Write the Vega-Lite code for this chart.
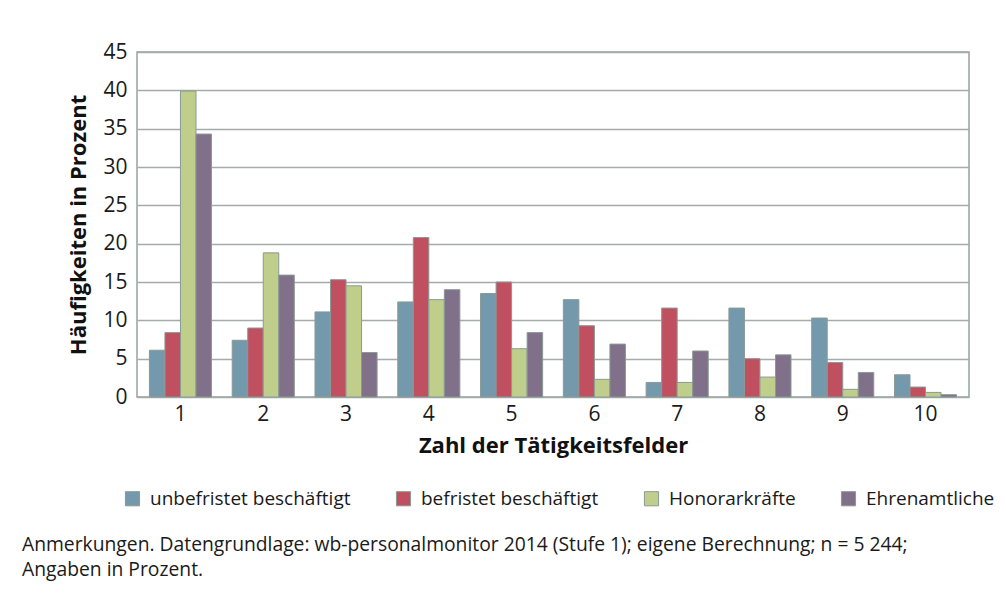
{
  "$schema": "https://vega.github.io/schema/vega-lite/v6.json",
  "width": 832,
  "height": 345,
  "autosize": {"type": "none"},
  "padding": {"left": 137, "top": 52, "right": 37, "bottom": 218},
  "background": "white",
  "title": {
    "text": ["Anmerkungen. Datengrundlage: wb-personalmonitor 2014 (Stufe 1); eigene Berechnung; n = 5 244;", "Angaben in Prozent."],
    "orient": "bottom",
    "anchor": "start",
    "frame": "group",
    "dx": -115,
    "offset": 27,
    "font": "Open Sans, sans-serif",
    "fontSize": 19.3,
    "fontWeight": "normal",
    "color": "#1a1a1a",
    "lineHeight": 25
  },
  "config": {
    "view": {"stroke": "#97a39e", "strokeWidth": 1.5},
    "font": "Open Sans, sans-serif",
    "axis": {
      "labelFont": "Open Sans, sans-serif",
      "labelFontSize": 21,
      "labelColor": "#1a1a1a",
      "titleFont": "Open Sans, sans-serif",
      "titleFontSize": 22,
      "titleFontWeight": "bold",
      "titleColor": "#111111",
      "ticks": false,
      "domain": false
    },
    "legend": {
      "labelFont": "Open Sans, sans-serif",
      "labelFontSize": 19,
      "labelColor": "#1a1a1a",
      "labelLimit": 0
    }
  },
  "data": {
    "values": [
      {"k": "1", "g": "unbefristet beschäftigt", "v": 6.1},
      {"k": "1", "g": "befristet beschäftigt", "v": 8.4},
      {"k": "1", "g": "Honorarkräfte", "v": 39.9},
      {"k": "1", "g": "Ehrenamtliche", "v": 34.3},
      {"k": "2", "g": "unbefristet beschäftigt", "v": 7.4},
      {"k": "2", "g": "befristet beschäftigt", "v": 9.0},
      {"k": "2", "g": "Honorarkräfte", "v": 18.8},
      {"k": "2", "g": "Ehrenamtliche", "v": 15.9},
      {"k": "3", "g": "unbefristet beschäftigt", "v": 11.1},
      {"k": "3", "g": "befristet beschäftigt", "v": 15.3},
      {"k": "3", "g": "Honorarkräfte", "v": 14.5},
      {"k": "3", "g": "Ehrenamtliche", "v": 5.8},
      {"k": "4", "g": "unbefristet beschäftigt", "v": 12.4},
      {"k": "4", "g": "befristet beschäftigt", "v": 20.8},
      {"k": "4", "g": "Honorarkräfte", "v": 12.7},
      {"k": "4", "g": "Ehrenamtliche", "v": 14.0},
      {"k": "5", "g": "unbefristet beschäftigt", "v": 13.5},
      {"k": "5", "g": "befristet beschäftigt", "v": 15.0},
      {"k": "5", "g": "Honorarkräfte", "v": 6.3},
      {"k": "5", "g": "Ehrenamtliche", "v": 8.4},
      {"k": "6", "g": "unbefristet beschäftigt", "v": 12.7},
      {"k": "6", "g": "befristet beschäftigt", "v": 9.3},
      {"k": "6", "g": "Honorarkräfte", "v": 2.3},
      {"k": "6", "g": "Ehrenamtliche", "v": 6.9},
      {"k": "7", "g": "unbefristet beschäftigt", "v": 1.9},
      {"k": "7", "g": "befristet beschäftigt", "v": 11.6},
      {"k": "7", "g": "Honorarkräfte", "v": 1.9},
      {"k": "7", "g": "Ehrenamtliche", "v": 6.0},
      {"k": "8", "g": "unbefristet beschäftigt", "v": 11.6},
      {"k": "8", "g": "befristet beschäftigt", "v": 5.0},
      {"k": "8", "g": "Honorarkräfte", "v": 2.6},
      {"k": "8", "g": "Ehrenamtliche", "v": 5.5},
      {"k": "9", "g": "unbefristet beschäftigt", "v": 10.3},
      {"k": "9", "g": "befristet beschäftigt", "v": 4.5},
      {"k": "9", "g": "Honorarkräfte", "v": 1.0},
      {"k": "9", "g": "Ehrenamtliche", "v": 3.2},
      {"k": "10", "g": "unbefristet beschäftigt", "v": 2.9},
      {"k": "10", "g": "befristet beschäftigt", "v": 1.3},
      {"k": "10", "g": "Honorarkräfte", "v": 0.6},
      {"k": "10", "g": "Ehrenamtliche", "v": 0.3}
    ]
  },
  "mark": {"type": "bar", "stroke": "#8a9a94", "strokeWidth": 1},
  "encoding": {
    "x": {
      "field": "k",
      "type": "ordinal",
      "sort": ["1", "2", "3", "4", "5", "6", "7", "8", "9", "10"],
      "scale": {"paddingInner": 0.25, "paddingOuter": 0.15},
      "axis": {
        "title": "Zahl der Tätigkeitsfelder",
        "labelAngle": 0,
        "labelPadding": 6,
        "titlePadding": 11,
        "grid": false
      }
    },
    "xOffset": {
      "field": "g",
      "type": "nominal",
      "scale": {"domain": ["unbefristet beschäftigt", "befristet beschäftigt", "Honorarkräfte", "Ehrenamtliche"]}
    },
    "y": {
      "field": "v",
      "type": "quantitative",
      "scale": {"domain": [0, 45]},
      "axis": {
        "title": "Häufigkeiten in Prozent",
        "values": [0, 5, 10, 15, 20, 25, 30, 35, 40, 45],
        "grid": true,
        "gridColor": "#a3aca8",
        "gridWidth": 1.5,
        "gridOpacity": 1,
        "labelPadding": 10,
        "titlePadding": 12
      }
    },
    "color": {
      "field": "g",
      "type": "nominal",
      "scale": {
        "domain": ["unbefristet beschäftigt", "befristet beschäftigt", "Honorarkräfte", "Ehrenamtliche"],
        "range": ["#7499ac", "#c04f5f", "#bfcf8b", "#807089"]
      },
      "legend": {
        "title": null,
        "orient": "none",
        "direction": "horizontal",
        "legendX": -14,
        "legendY": 437,
        "symbolType": "square",
        "symbolSize": 200,
        "symbolStrokeColor": "#8a9a94",
        "symbolStrokeWidth": 1,
        "symbolOpacity": 1,
        "columnPadding": 43,
        "labelOffset": 8
      }
    }
  }
}
